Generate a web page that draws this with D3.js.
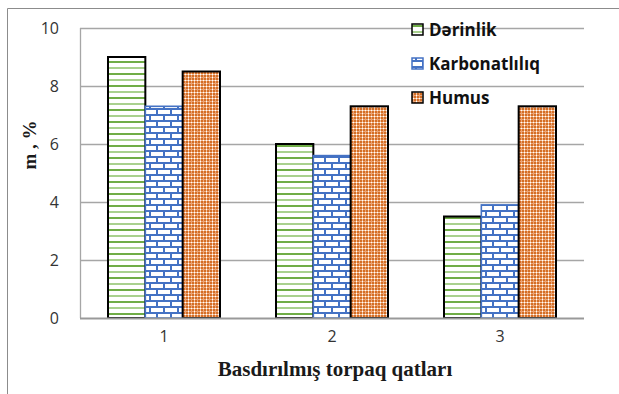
<!DOCTYPE html>
<html><head><meta charset="utf-8">
<script src="https://cdn.jsdelivr.net/npm/d3@7/dist/d3.min.js"></script>
<style>body{margin:0;background:#fff;}svg{display:block;}</style>
</head><body>
<script>
const categories = ["1","2","3"];
const seriesNames = ["Dərinlik","Karbonatlılıq","Humus"];
const derinlik = [9, 6, 3.5];
const karbonatliliq = [7.3, 5.6, 3.9];
const humus = [8.5, 7.3, 7.3];
const yTicks = [0,2,4,6,8,10];
const series = [derinlik, karbonatliliq, humus];

const W=619,H=394;
const svg=d3.select("body").append("svg").attr("width",W).attr("height",H);
const defs=svg.append("defs");
// patterns
const p1=defs.append("pattern").attr("id","pDer").attr("patternUnits","userSpaceOnUse").attr("width",8).attr("height",12);
p1.append("rect").attr("width",8).attr("height",12).attr("fill","#fff");
p1.append("rect").attr("y",1).attr("width",8).attr("height",2).attr("fill","#70AD47");
p1.append("rect").attr("y",7).attr("width",8).attr("height",2).attr("fill","#A9D18E");
const p2=defs.append("pattern").attr("id","pKar").attr("patternUnits","userSpaceOnUse").attr("width",14).attr("height",12);
p2.append("rect").attr("width",14).attr("height",12).attr("fill","#fff");
p2.append("rect").attr("y",0).attr("width",14).attr("height",2).attr("fill","#4472C4");
p2.append("rect").attr("y",6).attr("width",14).attr("height",2).attr("fill","#4472C4");
p2.append("rect").attr("x",2).attr("y",0).attr("width",2).attr("height",6).attr("fill","#4472C4");
p2.append("rect").attr("x",9).attr("y",6).attr("width",2).attr("height",6).attr("fill","#4472C4");
const p3=defs.append("pattern").attr("id","pHum").attr("patternUnits","userSpaceOnUse").attr("width",6).attr("height",6);
p3.append("rect").attr("width",6).attr("height",6).attr("fill","#D46E26");
p3.append("rect").attr("x",0).attr("y",2).attr("width",6).attr("height",1).attr("fill","#F4C29E");
p3.append("rect").attr("x",2).attr("y",0).attr("width",1).attr("height",6).attr("fill","#F4C29E");
p3.append("rect").attr("x",0).attr("y",5).attr("width",6).attr("height",1).attr("fill","#EBA678");
p3.append("rect").attr("x",5).attr("y",0).attr("width",1).attr("height",6).attr("fill","#EBA678");
p3.append("rect").attr("x",2).attr("y",2).attr("width",1).attr("height",1).attr("fill","#fff");
p3.append("rect").attr("x",5).attr("y",2).attr("width",1).attr("height",1).attr("fill","#fff");
p3.append("rect").attr("x",2).attr("y",5).attr("width",1).attr("height",1).attr("fill","#fff");
const fills=["url(#pDer)","url(#pKar)","url(#pHum)"];
const strokes=["#000","#4472C4","#000"];

// outer border (top & left)
svg.append("path").attr("d","M7.5,394 V8.5 H619").attr("fill","none").attr("stroke","#8c8c8c").attr("stroke-width",1);

const L=80,R=584,T=28,B=318;
const y=d3.scaleLinear().domain([0,10]).range([B,T]);
// group band 168px, bars 37.33 each, gap 56
const band=d3.scaleBand().domain(categories).range([L,R]).padding(0);
const inner=d3.scaleBand().domain(seriesNames).range([28,140]).padding(0);

// gridlines
svg.append("g").selectAll("line").data(yTicks.filter(d=>d>0)).join("line")
 .attr("x1",L).attr("x2",R).attr("y1",d=>Math.round(y(d))+0.5).attr("y2",d=>Math.round(y(d))+0.5)
 .attr("stroke","#a6a6a6").attr("stroke-width",1.3);
svg.append("line").attr("x1",L+0.5).attr("x2",L+0.5).attr("y1",T).attr("y2",B).attr("stroke","#a6a6a6").attr("stroke-width",1.3);

// bars
series.forEach((vals,si)=>{
  svg.append("g").selectAll("rect").data(vals).join("rect")
   .attr("x",(d,i)=>band(categories[i])+inner(seriesNames[si]))
   .attr("y",d=>y(d))
   .attr("width",inner.bandwidth())
   .attr("height",d=>B-y(d))
   .attr("fill",fills[si]).attr("stroke",strokes[si]).attr("stroke-width",si===1?1.6:2);
});

// x axis line
svg.append("line").attr("x1",L).attr("x2",R).attr("y1",B+0.5).attr("y2",B+0.5).attr("stroke","#999").attr("stroke-width",1.8);

// y tick labels
const yAxis=d3.axisLeft(y).tickValues(yTicks).tickSize(0).tickPadding(0);
const gy=svg.append("g").attr("transform",`translate(${L-21},0)`).call(yAxis);
gy.select(".domain").remove();
gy.selectAll("text").attr("font-family","'Open Sans', sans-serif").attr("font-size",16).attr("fill","#333");

// x tick labels
const xAxis=d3.axisBottom(band).tickSize(0).tickPadding(0);
const gx=svg.append("g").attr("transform",`translate(0,${B+13})`).call(xAxis);
gx.select(".domain").remove();
gx.selectAll("text").attr("font-family","'Open Sans', sans-serif").attr("font-size",16).attr("fill","#333");

// axis titles
svg.append("text").attr("x",335).attr("y",376).attr("text-anchor","middle")
 .attr("font-family","'Liberation Serif', serif").attr("font-weight","bold").attr("font-size",21).attr("fill","#1a1a1a")
 .text("Basdırılmış torpaq qatları");
svg.append("text").attr("transform","translate(36,145) rotate(-90)").attr("text-anchor","middle")
 .attr("font-family","'Liberation Serif', serif").attr("font-weight","bold").attr("font-size",19).attr("fill","#1a1a1a")
 .text("m , %");

// legend
const lg=svg.append("g");
seriesNames.forEach((n,i)=>{
  const cy=29+i*34;
  lg.append("rect").attr("x",412).attr("y",cy-5).attr("width",11).attr("height",11)
    .attr("fill",fills[i]).attr("stroke",strokes[i]).attr("stroke-width",1.5);
  lg.append("text").attr("x",429).attr("y",cy+6.5).attr("font-family","'Open Sans', sans-serif")
    .attr("font-weight","bold").attr("font-size",17).attr("fill","#111").text(n);
});
</script>
</body></html>
